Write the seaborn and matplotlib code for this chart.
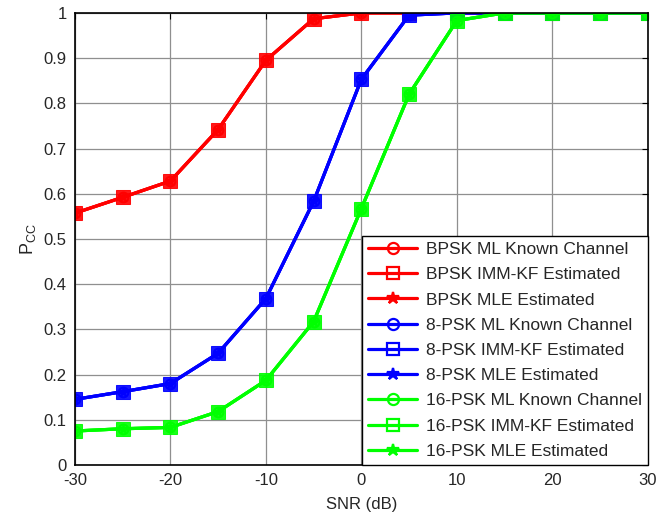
import numpy as np
import pandas as pd
import matplotlib
matplotlib.use("Agg")
import matplotlib.pyplot as plt
import seaborn as sns
from matplotlib.lines import Line2D

snr = [-30, -25, -20, -15, -10, -5, 0, 5, 10, 15, 20, 25, 30]
bpsk = [0.557, 0.592, 0.628, 0.742, 0.895, 0.987, 1.0, 1.0, 1.0, 1.0, 1.0, 1.0, 1.0]
psk8 = [0.145, 0.162, 0.180, 0.247, 0.368, 0.583, 0.853, 0.995, 1.0, 1.0, 1.0, 1.0, 1.0]
psk16 = [0.075, 0.080, 0.083, 0.118, 0.187, 0.317, 0.567, 0.820, 0.983, 1.0, 1.0, 1.0, 1.0]

mods = ["BPSK", "8-PSK", "16-PSK"]
colors = ["#ff0000", "#0000ff", "#00ff00"]
methods = ["ML Known Channel", "IMM-KF Estimated", "MLE Estimated"]
markers = ["o", "s", "*"]

sns.set_style("white")
plt.rcParams["font.family"] = ["Liberation Sans", "DejaVu Sans"]
plt.rcParams["mathtext.fontset"] = "custom"
plt.rcParams["mathtext.rm"] = "Liberation Sans"
plt.rcParams["mathtext.it"] = "Liberation Sans"
plt.rcParams["axes.unicode_minus"] = False

rows = []
for m, vals in zip(mods, [bpsk, psk8, psk16]):
    for x, y in zip(snr, vals):
        rows.append({"mod": m, "snr": x, "pcc": y})
df = pd.DataFrame(rows)

fig = plt.figure(figsize=(6.57, 5.16), dpi=100)
ax = fig.add_axes([0.114, 0.099, 0.872, 0.876])

handles = []
for m, c in zip(mods, colors):
    d = df[df["mod"] == m]
    for meth, mk in zip(methods, markers):
        if mk == "s":
            sns.lineplot(data=d, x="snr", y="pcc", ax=ax, color=c, lw=2.3,
                         marker="s", markersize=10, markerfacecolor=c,
                         markeredgecolor=c, alpha=0.9)
        elif mk == "o":
            sns.lineplot(data=d, x="snr", y="pcc", ax=ax, color=c, lw=2.3,
                         marker="o", markersize=7, markerfacecolor="none",
                         markeredgecolor=c, markeredgewidth=1.5)
        else:
            sns.lineplot(data=d, x="snr", y="pcc", ax=ax, color=c, lw=2.3,
                         marker="*", markersize=7, markerfacecolor=c,
                         markeredgecolor=c)
        handles.append(Line2D([0], [0], color=c, lw=2.3, marker=mk,
                              markersize=8 if mk != "*" else 9,
                              markerfacecolor="none" if mk != "*" else c,
                              markeredgecolor=c, markeredgewidth=1.6,
                              label=f"{m} {meth}"))

ax.set_xlim(-30, 30)
ax.set_ylim(0, 1)
ax.set_xticks(range(-30, 31, 10))
ax.set_yticks(np.arange(0, 1.01, 0.1))
ax.set_yticklabels(["0", "0.1", "0.2", "0.3", "0.4", "0.5", "0.6", "0.7", "0.8", "0.9", "1"])
ax.grid(True, color="#8f8f8f", lw=0.9)
ax.tick_params(direction="in", top=True, right=True, labelsize=12, length=4,
               color="black", pad=6)
for s in ax.spines.values():
    s.set_color("black")
    s.set_linewidth(1.2)
ax.set_xlabel("SNR (dB)", fontsize=12, labelpad=6)
ax.set_ylabel(r"P$_{\mathrm{CC}}$", fontsize=13, labelpad=4)

leg = ax.legend(handles=handles, loc="lower right", fontsize=12.5,
                handlelength=2.8, handletextpad=0.5, labelspacing=0.58,
                borderaxespad=0.0, borderpad=0.35, frameon=True,
                fancybox=False, edgecolor="black", framealpha=1)
leg.get_frame().set_linewidth(1.0)

fig.savefig("out.png", dpi=100)
